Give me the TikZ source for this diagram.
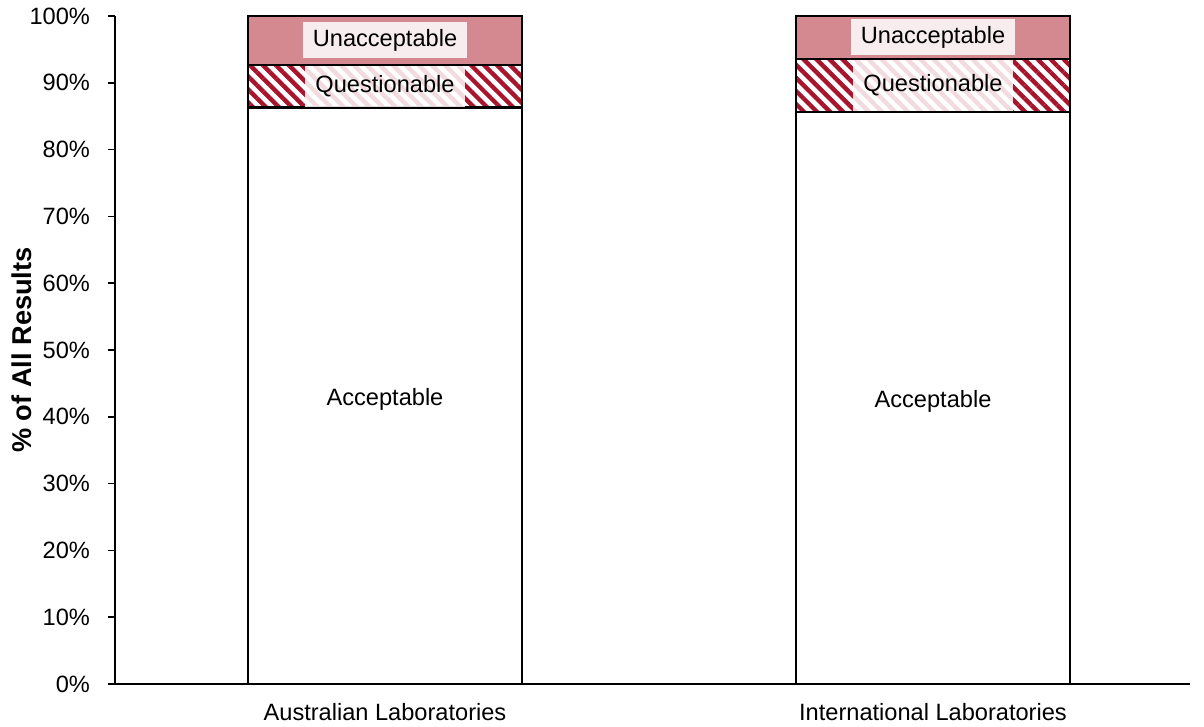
\documentclass[tikz,border=0pt]{standalone}
\usepackage{fontspec}
\setmainfont{Liberation Sans}
\usetikzlibrary{patterns.meta}
\definecolor{unaccpink}{RGB}{212,136,144}
\definecolor{hatchred}{RGB}{168,20,44}
\tikzset{segment/.style={draw=black,line width=1.1pt}}
\tikzset{tag/.style={fill=white,fill opacity=0.85,text opacity=1,
                     inner xsep=5pt,inner ysep=0pt,minimum height=18pt}}
\tikzset{hatched/.style={preaction={fill=white},
                         pattern={Lines[angle=-45,distance=4.6pt,line width=2.2pt]},
                         pattern color=hatchred}}
\def\barwidth{274}

\begin{document}
\begin{tikzpicture}[x=0.5pt,y=3.34pt,font=\fontsize{11.8}{14}\selectfont]
    \useasboundingbox (-115,-6.29) rectangle (1089,102.4);

    % Draw the stacked bars
    \foreach \name / \x / \acc / \que / \lab in
        {aus/133/86.3/92.7/Australian Laboratories,
         int/681/85.6/93.6/International Laboratories}
    {
        \path[fill=white] (\x,0) rectangle ({\x+\barwidth},\acc);
        \path[hatched] (\x,\acc) rectangle ({\x+\barwidth},\que);
        \path[fill=unaccpink] (\x,\que) rectangle ({\x+\barwidth},100);
        \draw[segment] (\x,0) rectangle ({\x+\barwidth},\acc);
        \draw[segment] (\x,\acc) rectangle ({\x+\barwidth},\que);
        \draw[segment] (\x,\que) rectangle ({\x+\barwidth},100);

        % Label the segments and the bar
        \node[tag] (\name-u) at ({\x+\barwidth/2},{(\que+100)/2}) {Unacceptable};
        \node[tag,minimum height={(\que-\acc)*3.34pt-1pt}] (\name-q)
            at ({\x+\barwidth/2},{(\acc+\que)/2}) {Questionable};
        \node (\name-a) at ({\x+\barwidth/2},{\acc/2-0.5}) {Acceptable};
        \node (\name-cat) at ({\x+\barwidth/2},-4.2) {\lab};
    }

    % Draw the axes and the ticks
    \draw[line width=0.75pt] (0,100) -- (0,0) -- (1075,0);
    \foreach \p in {0,10,...,100}
    {
        \draw[line width=0.75pt] (-7,\p) -- (0,\p);
        \node[anchor=east] (tick-\p) at (-18,\p) {\p\%};
    }

    % Annotate the value axis
    \node[rotate=90,font=\fontsize{13.6}{16}\selectfont\bfseries] (ylab) at (-93,50)
        {\% of All Results};
\end{tikzpicture}
\end{document}
